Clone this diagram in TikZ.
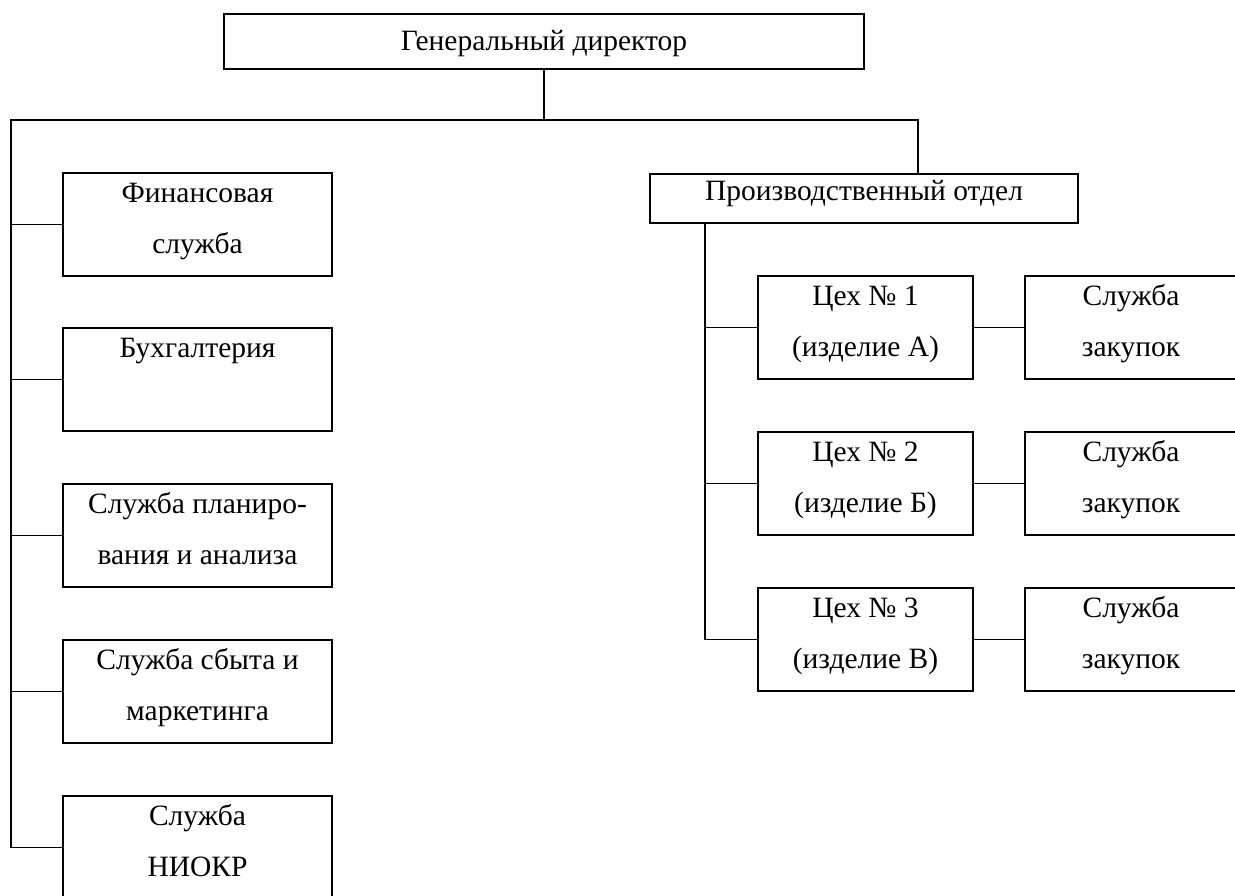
\documentclass[tikz,border=0pt]{standalone}
\usepackage{fontspec}
\setmainfont{Liberation Serif}
\begin{document}
\begin{tikzpicture}[x=1pt,y=-1pt,
  box/.style={draw, line width=1.9pt, inner sep=0pt, outer sep=0pt, anchor=north west,
    align=center, font=\fontsize{29.5}{51}\selectfont},
  oneline/.style={text height=29pt, text depth=74pt},
  twolines/.style={text height=80pt, text depth=23pt},
  topbox/.style={box, line width=2.8pt, minimum width=640pt, text height=36pt, text depth=19pt},
  unit/.style={box, minimum width=269pt, twolines},
  dept/.style={box, line width=2.2pt, minimum width=428pt, text height=26pt, text depth=23pt},
  shop/.style={box, minimum width=215pt, twolines},
  buy/.style={box, minimum width=212pt, twolines},
  conn/.style={line width=1.9pt, line cap=rect}]
\useasboundingbox (0,0) rectangle (1235,895);
% boxes
\node[topbox] (gd) at (224,14) {Генеральный директор};
\node[unit] (fin) at (63,173) {Финансовая\\служба};
\node[unit, oneline] (buh) at (63,328) {Бухгалтерия};
\node[unit] (plan) at (63,484) {Служба планиро-\\вания и анализа};
\node[unit] (sbyt) at (63,640) {Служба сбыта и\\маркетинга};
\node[unit] (niokr) at (63,796) {Служба\\НИОКР};
\node[dept] (pd) at (650,174) {Производственный отдел};
\node[shop] (c1) at (758,276) {Цех № 1\\(изделие А)};
\node[shop] (c2) at (758,432) {Цех № 2\\(изделие Б)};
\node[shop] (c3) at (758,588) {Цех № 3\\(изделие В)};
\node[buy] (z1) at (1025,276) {Служба\\закупок};
\node[buy] (z2) at (1025,432) {Служба\\закупок};
\node[buy] (z3) at (1025,588) {Служба\\закупок};
% bus coordinates
\coordinate (T) at (544,120);
\coordinate (L) at (11,120);
\coordinate (R) at (918,120);
\coordinate (P) at (705,0);
% connectors
\draw[conn] (gd.south) -- (T);
\draw[conn] (R |- pd.north) -- (R) -- (L) -- (L |- niokr.west);
\foreach \n in {fin,buh,plan,sbyt,niokr} \draw[conn] (L |- \n.west) -- (\n.west);
\draw[conn] (P |- pd.south) -- (P |- c3.west);
\foreach \i in {1,2,3} {
  \draw[conn] (P |- c\i.west) -- (c\i.west);
  \draw[conn] (c\i.east) -- (z\i.west);
}
\end{tikzpicture}
\end{document}
